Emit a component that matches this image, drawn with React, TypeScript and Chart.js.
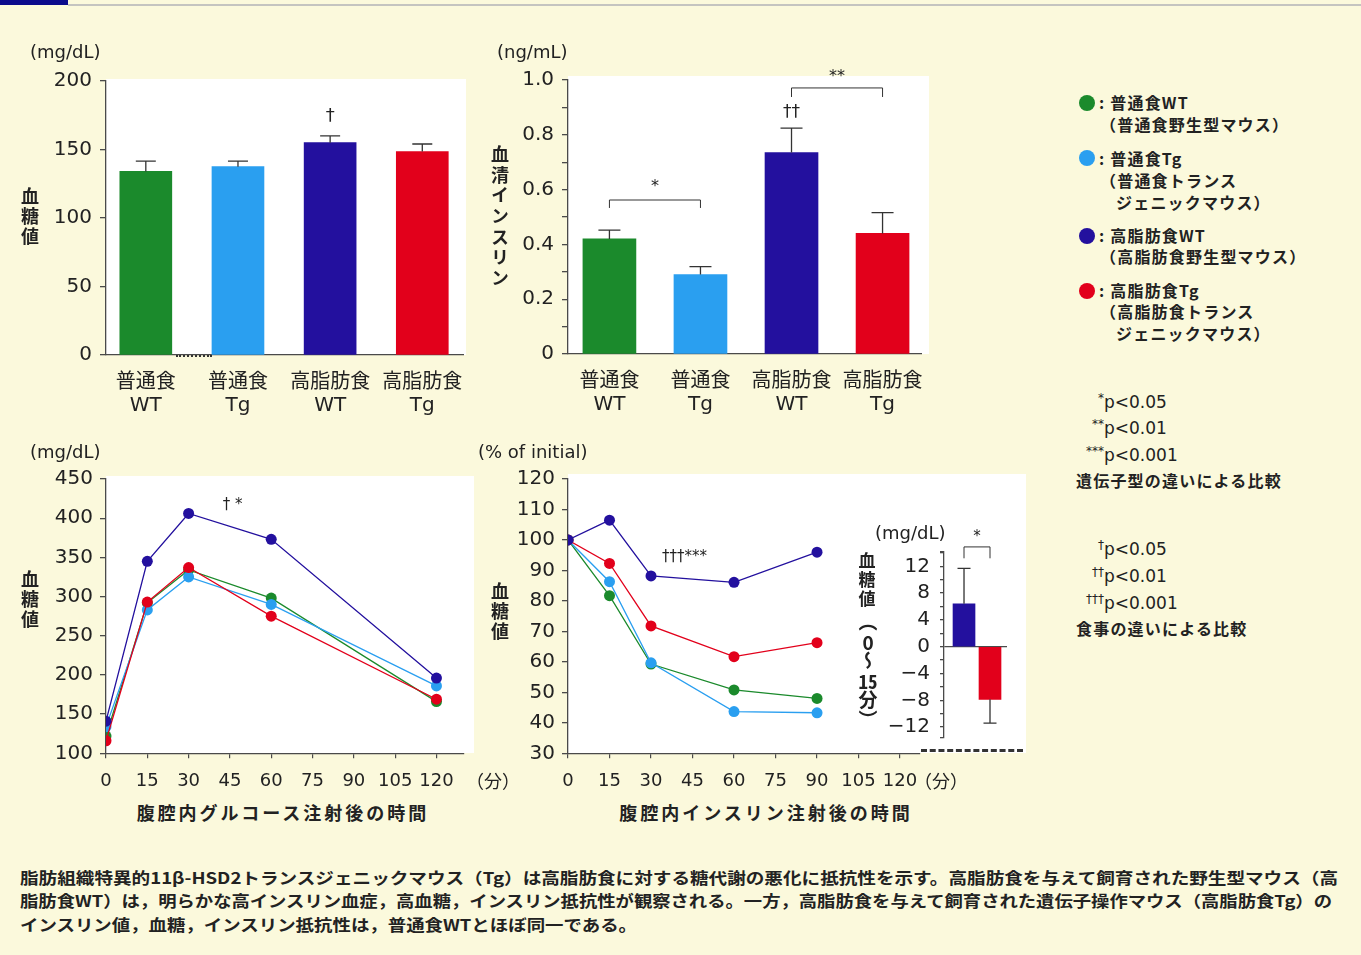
import React, { useEffect, useRef } from 'react';
import { Chart, registerables } from 'chart.js';

Chart.register(...registerables);

// ---------------- data ----------------
const groupLabels = [['普通食', 'WT'], ['普通食', 'Tg'], ['高脂肪食', 'WT'], ['高脂肪食', 'Tg']];

const glucoseMean = [134, 137.5, 155, 148.5];
const glucoseErrTop = [141.5, 141.5, 160, 154];

const insulinMean = [0.42, 0.29, 0.735, 0.44];
const insulinErrTop = [0.452, 0.319, 0.824, 0.516];

const timeTicks = [0, 15, 30, 45, 60, 75, 90, 105, 120];

const ipgttTimes = [0, 15, 30, 60, 120];
const ipgttNWT = [122, 292, 334, 298, 166];
const ipgttNTg = [134, 283, 325, 290, 186];
const ipgttHWT = [141, 345, 406, 373, 196];
const ipgttHTg = [116, 293, 337, 275, 169];

const ipittTimes = [0, 15, 30, 60, 90];
const ipittNWT = [100, 81.7, 59.3, 50.8, 48];
const ipittNTg = [100, 86.3, 59.7, 43.7, 43.3];
const ipittHWT = [100, 106.5, 88.2, 86.1, 96];
const ipittHTg = [100, 92.3, 71.8, 61.7, 66.3];

const deltaMean = [6.4, -7.85];
const deltaErrEnd = [11.7, -11.4];
const deltaTicks = [-12, -10, -8, -6, -4, -2, 0, 2, 4, 6, 8, 10, 12, 14];

const captionLines = [
  '脂肪組織特異的11β-HSD2トランスジェニックマウス（Tg）は高脂肪食に対する糖代謝の悪化に抵抗性を示す。高脂肪食を与えて飼育された野生型マウス（高',
  '脂肪食WT）は，明らかな高インスリン血症，高血糖，インスリン抵抗性が観察される。一方，高脂肪食を与えて飼育された遺伝子操作マウス（高脂肪食Tg）の',
  'インスリン値，血糖，インスリン抵抗性は，普通食WTとほぼ同一である。',
];

// ---------------- styles ----------------
const PAGE_BG = '#fbf9dc';
const INK = '#222222';
const AXIS = '#4a4a4a';
const C_NWT = '#1b8a2c';
const C_NTG = '#2a9ff0';
const C_HWT = '#23109e';
const C_HTG = '#e2001b';
const barColors = [C_NWT, C_NTG, C_HWT, C_HTG];
const LAT = "'DejaVu Sans', 'Noto Sans CJK JP', sans-serif";
const JP = "'Noto Sans CJK JP', 'DejaVu Sans', sans-serif";

type Txt = { x: number; y: number; text: string; size?: number; align?: CanvasTextAlign };
type Bracket = { from: number; to: number; y: number; yTick: number };

const annoPlugin = {
  id: 'anno',
  afterDatasetsDraw(chart: any, _args: any, opts: any) {
    const { ctx, scales } = chart;
    const xs = scales.x;
    const ys = scales.y;
    ctx.save();
    ctx.strokeStyle = '#333';
    ctx.lineWidth = 1.3;
    if (opts.errEnd) {
      const meta = chart.getDatasetMeta(0);
      meta.data.forEach((el: any, i: number) => {
        const x = el.x;
        const y0 = ys.getPixelForValue(opts.mean[i]);
        const y1 = ys.getPixelForValue(opts.errEnd[i]);
        const cap = opts.cap || 20;
        ctx.beginPath();
        ctx.moveTo(x, y0);
        ctx.lineTo(x, y1);
        ctx.moveTo(x - cap / 2, y1);
        ctx.lineTo(x + cap / 2, y1);
        ctx.stroke();
      });
    }
    (opts.brackets || []).forEach((b: Bracket) => {
      const x0 = xs.getPixelForValue(b.from);
      const x1 = xs.getPixelForValue(b.to);
      const y = ys.getPixelForValue(b.y);
      const yt = ys.getPixelForValue(b.yTick);
      ctx.lineWidth = 1;
      ctx.beginPath();
      ctx.moveTo(x0, yt);
      ctx.lineTo(x0, y);
      ctx.lineTo(x1, y);
      ctx.lineTo(x1, yt);
      ctx.stroke();
    });
    (opts.texts || []).forEach((t: Txt) => {
      ctx.fillStyle = INK;
      ctx.font = `${t.size || 17}px ${LAT}`;
      ctx.textAlign = t.align || 'center';
      ctx.textBaseline = 'middle';
      ctx.fillText(t.text, xs.getPixelForValue(t.x), ys.getPixelForValue(t.y));
    });
    ctx.restore();
  },
};

const baseOpts = (padding: any, scales: any, anno: any) => ({
  responsive: false,
  animation: false as const,
  layout: { padding },
  plugins: { legend: { display: false }, tooltip: { enabled: false }, anno },
  scales,
});

const yAxis = (min: number, max: number, step: number, width: number, pad: number, extra: any = {}) => ({
  type: 'linear',
  min,
  max,
  ticks: {
    stepSize: step,
    autoSkip: false,
    padding: pad,
    color: INK,
    font: { family: LAT, size: 20 },
    ...(extra.ticks || {}),
  },
  grid: { drawOnChartArea: false, tickLength: 6, color: AXIS, tickColor: AXIS, lineWidth: 1.3, ...(extra.grid || {}) },
  border: { display: true, color: AXIS, width: 1.3 },
  afterFit: (s: any) => {
    s.width = width;
  },
  ...(extra.rest || {}),
});

const catX = (min: number, max: number, height: number) => ({
  type: 'linear',
  min,
  max,
  offset: false,
  grid: { display: false, drawTicks: false, offset: false },
  border: { display: true, color: AXIS, width: 1.3 },
  afterBuildTicks: (s: any) => {
    s.ticks = groupLabels.map((_, i) => ({ value: i }));
  },
  ticks: {
    autoSkip: false,
    maxRotation: 0,
    padding: 16,
    color: INK,
    font: { family: LAT, size: 20, lineHeight: 1.15 },
    callback: (v: any) => groupLabels[v] || '',
  },
  afterFit: (s: any) => {
    s.height = height;
  },
});

const timeX = (max: number, height: number) => ({
  type: 'linear',
  min: 0,
  max,
  afterBuildTicks: (s: any) => {
    s.ticks = timeTicks.map((v) => ({ value: v }));
  },
  ticks: { autoSkip: false, maxRotation: 0, padding: 12, color: INK, font: { family: LAT, size: 18 } },
  grid: { drawOnChartArea: false, tickLength: 5, color: AXIS, tickColor: AXIS, lineWidth: 1.2 },
  border: { color: AXIS, width: 1.3 },
  afterFit: (s: any) => {
    s.height = height;
  },
});

const lineDs = (times: number[], vals: number[], color: string) => ({
  data: times.map((t, i) => ({ x: t, y: vals[i] })),
  borderColor: color,
  backgroundColor: color,
  pointBackgroundColor: color,
  pointBorderColor: color,
  pointRadius: 5.5,
  pointBorderWidth: 0,
  borderWidth: 1.3,
  tension: 0,
});

// ---------------- small html helpers ----------------
function T(props: {
  x: number;
  y: number;
  size?: number;
  anchor?: 'left' | 'center' | 'right';
  style?: React.CSSProperties;
  children: React.ReactNode;
}) {
  const { x, y, size = 18, anchor = 'left', style, children } = props;
  const tx = anchor === 'center' ? '-50%' : anchor === 'right' ? '-100%' : '0';
  return (
    <div
      style={{
        position: 'absolute',
        left: x,
        top: y,
        transform: `translate(${tx}, -50%)`,
        fontSize: size,
        lineHeight: 1.2,
        whiteSpace: 'nowrap',
        color: INK,
        fontFamily: LAT,
        ...style,
      }}
    >
      {children}
    </div>
  );
}

function V(props: { x: number; y: number; size?: number; spacing?: number; children: React.ReactNode }) {
  const { x, y, size = 18, spacing = 2, children } = props;
  return (
    <div
      style={{
        position: 'absolute',
        left: x - size / 2,
        top: y,
        writingMode: 'vertical-rl',
        fontSize: size,
        lineHeight: 1,
        letterSpacing: spacing,
        fontFamily: JP,
        fontWeight: 700,
        color: INK,
        whiteSpace: 'nowrap',
      }}
    >
      {children}
    </div>
  );
}

function Dot({ x, y, color }: { x: number; y: number; color: string }) {
  return (
    <div
      style={{
        position: 'absolute',
        left: x - 8,
        top: y - 8,
        width: 16,
        height: 16,
        borderRadius: '50%',
        background: color,
      }}
    />
  );
}

function WhiteBox({ l, t, w, h }: { l: number; t: number; w: number; h: number }) {
  return <div style={{ position: 'absolute', left: l, top: t, width: w, height: h, background: '#ffffff' }} />;
}

export default function App() {
  const cA = useRef<HTMLCanvasElement>(null);
  const cB = useRef<HTMLCanvasElement>(null);
  const cC = useRef<HTMLCanvasElement>(null);
  const cD = useRef<HTMLCanvasElement>(null);
  const cE = useRef<HTMLCanvasElement>(null);
  const capRefs = [useRef<HTMLSpanElement>(null), useRef<HTMLSpanElement>(null), useRef<HTMLSpanElement>(null)];
  const capTargets = [1318, 1312, 617];

  useEffect(() => {
    const charts: Chart[] = [];

    // A: fasting glucose bars
    charts.push(
      new Chart(cA.current as HTMLCanvasElement, {
        type: 'bar',
        data: {
          datasets: [
            {
              data: glucoseMean.map((v, i) => ({ x: i, y: v })) as any,
              backgroundColor: barColors,
              borderWidth: 0,
              barThickness: 52,
            },
          ],
        },
        options: baseOpts(
          { left: 0, top: 21, right: 15, bottom: 0 },
          {
            x: catX(-0.432, 3.442, 75),
            y: yAxis(0, 200, 50, 66, 8),
          },
          {
            mean: glucoseMean,
            errEnd: glucoseErrTop,
            cap: 20,
            texts: [{ x: 2, y: 174, text: '†', size: 18 }],
          }
        ) as any,
        plugins: [annoPlugin as any],
      })
    );

    // B: serum insulin bars
    charts.push(
      new Chart(cB.current as HTMLCanvasElement, {
        type: 'bar',
        data: {
          datasets: [
            {
              data: insulinMean.map((v, i) => ({ x: i, y: v })) as any,
              backgroundColor: barColors,
              borderWidth: 0,
              barThickness: 53,
            },
          ],
        },
        options: baseOpts(
          { left: 0, top: 30, right: 13, bottom: 0 },
          {
            x: catX(-0.455, 3.433, 76),
            y: yAxis(0, 1, 0.1, 68, 8, {
              ticks: {
                callback: (v: any) => {
                  const k = Math.round(v * 10);
                  return k % 2 === 0 ? (k === 0 ? '0' : (k / 10).toFixed(1)) : '';
                },
              },
            }),
          },
          {
            mean: insulinMean,
            errEnd: insulinErrTop,
            cap: 22,
            brackets: [
              { from: 0, to: 1, y: 0.562, yTick: 0.533 },
              { from: 2, to: 3, y: 0.971, yTick: 0.938 },
            ],
            texts: [
              { x: 0.5, y: 0.61, text: '*', size: 16 },
              { x: 2.5, y: 1.01, text: '**', size: 16 },
              { x: 2, y: 0.88, text: '††', size: 17 },
            ],
          }
        ) as any,
        plugins: [annoPlugin as any],
      })
    );

    // C: IPGTT
    charts.push(
      new Chart(cC.current as HTMLCanvasElement, {
        type: 'line',
        data: {
          datasets: [
            lineDs(ipgttTimes, ipgttHWT, C_HWT),
            lineDs(ipgttTimes, ipgttHTg, C_HTG),
            lineDs(ipgttTimes, ipgttNTg, C_NTG),
            lineDs(ipgttTimes, ipgttNWT, C_NWT),
          ] as any,
        },
        options: baseOpts(
          { left: 0, top: 19, right: 36, bottom: 0 },
          {
            x: timeX(130, 36.7),
            y: yAxis(100, 450, 50, 66, 7),
          },
          { texts: [{ x: 46, y: 417, text: '† *', size: 15 }] }
        ) as any,
        plugins: [annoPlugin as any],
      })
    );

    // D: IPITT
    charts.push(
      new Chart(cD.current as HTMLCanvasElement, {
        type: 'line',
        data: {
          datasets: [
            lineDs(ipittTimes, ipittHWT, C_HWT),
            lineDs(ipittTimes, ipittHTg, C_HTG),
            lineDs(ipittTimes, ipittNTg, C_NTG),
            lineDs(ipittTimes, ipittNWT, C_NWT),
          ] as any,
        },
        options: baseOpts(
          { left: 0, top: 18.5, right: 20.6, bottom: 0 },
          {
            x: timeX(127, 36.7),
            y: yAxis(30, 120, 10, 68, 7),
          },
          { texts: [{ x: 34, y: 94.4, text: '†††***', size: 15, align: 'left' }] }
        ) as any,
        plugins: [annoPlugin as any],
      })
    );

    // E: inset delta glucose 0-15 min
    charts.push(
      new Chart(cE.current as HTMLCanvasElement, {
        type: 'bar',
        data: {
          datasets: [
            {
              data: deltaMean.map((v, i) => ({ x: i, y: v })) as any,
              backgroundColor: [C_HWT, C_HTG],
              borderWidth: 0,
              barThickness: 22,
            },
          ],
        },
        options: baseOpts(
          { left: 0, top: 31.6, right: 13, bottom: 22.8 },
          {
            x: { type: 'linear', min: -0.77, max: 1.654, display: false, offset: false },
            y: yAxis(-13.5, 14.2, 2, 84, 10, {
              ticks: {
                callback: (v: any) => {
                  if (!Number.isInteger(v) || v % 4 !== 0) return '';
                  return v < 0 ? '\u2212' + Math.abs(v) : String(v);
                },
              },
              grid: {
                drawOnChartArea: true,
                tickLength: 4,
                color: (c: any) => (c.tick && c.tick.value === 0 ? AXIS : 'rgba(0,0,0,0)'),
                tickColor: AXIS,
              },
              rest: {
                afterBuildTicks: (s: any) => {
                  s.ticks = [s.min, ...deltaTicks, s.max].map((v: number) => ({ value: v }));
                },
              },
            }),
          },
          {
            mean: deltaMean,
            errEnd: deltaErrEnd,
            cap: 13,
            brackets: [{ from: 0, to: 1, y: 14.9, yTick: 13.2 }],
            texts: [{ x: 0.5, y: 16.4, text: '*', size: 15 }],
          }
        ) as any,
        plugins: [annoPlugin as any],
      })
    );

    // fit caption lines to their measured widths
    capRefs.forEach((r, i) => {
      const el = r.current;
      if (!el) return;
      el.style.transform = 'none';
      const w = el.getBoundingClientRect().width;
      if (w > 0) el.style.transform = `scaleX(${capTargets[i] / w})`;
    });

    return () => charts.forEach((c) => c.destroy());
  }, []);

  const legendTxt: React.CSSProperties = { fontFamily: JP, fontWeight: 700, letterSpacing: 1.2 };
  const pStyle: React.CSSProperties = { fontFamily: LAT };
  const supStyle: React.CSSProperties = { fontFamily: LAT, fontSize: 12 };
  const upright: any = { textCombineUpright: 'all' };

  return (
    <div
      style={{
        position: 'absolute',
        left: 0,
        top: 0,
        width: 1361,
        height: 955,
        overflow: 'hidden',
        background: PAGE_BG,
        fontFamily: LAT,
      }}
    >
      {/* top strip */}
      <div style={{ position: 'absolute', left: 0, top: 0, width: 68, height: 5, background: '#0b0b8c' }} />
      <div style={{ position: 'absolute', left: 68, top: 4, width: 1293, height: 2, background: '#c4c4c0' }} />

      {/* plot backgrounds */}
      <WhiteBox l={106} t={79} w={360} h={276} />
      <WhiteBox l={568} t={76} w={361} h={278} />
      <WhiteBox l={106} t={476} w={368} h={277} />
      <WhiteBox l={568} t={474} w={458} h={279} />

      {/* canvases */}
      <canvas ref={cA} width={440} height={370} style={{ position: 'absolute', left: 40, top: 60 }} />
      <canvas ref={cB} width={440} height={380} style={{ position: 'absolute', left: 500, top: 50 }} />
      <canvas ref={cC} width={460} height={330} style={{ position: 'absolute', left: 40, top: 460 }} />
      <canvas ref={cD} width={440} height={330} style={{ position: 'absolute', left: 500, top: 460 }} />
      <canvas ref={cE} width={160} height={240} style={{ position: 'absolute', left: 860, top: 520 }} />

      {/* baseline artefacts */}
      <div style={{ position: 'absolute', left: 921, top: 749, width: 102, height: 0, borderTop: '3px dashed #333' }} />
      <div style={{ position: 'absolute', left: 176, top: 355, width: 36, height: 0, borderTop: '2px dotted #333' }} />

      {/* units */}
      <T x={30} y={52} size={18}>(mg/dL)</T>
      <T x={497} y={52} size={18}>(ng/mL)</T>
      <T x={30} y={452} size={18}>(mg/dL)</T>
      <T x={478} y={452} size={18}>(% of initial)</T>
      <T x={875} y={533} size={18}>(mg/dL)</T>

      {/* vertical axis titles */}
      <V x={30} y={187} size={18} spacing={2}>血糖値</V>
      <V x={500} y={145} size={18} spacing={2.7}>血清インスリン</V>
      <V x={30} y={570} size={18} spacing={2}>血糖値</V>
      <V x={500} y={582} size={18} spacing={2}>血糖値</V>
      <V x={867} y={552} size={17} spacing={2}>血糖値</V>
      <V x={868} y={612} size={19} spacing={1}>
        （<span style={upright}>0</span>〜<span style={upright}>15</span>分）
      </V>

      {/* x-axis titles and units */}
      <T x={283} y={813} size={18} anchor="center" style={{ fontFamily: JP, fontWeight: 700, letterSpacing: 3 }}>
        腹腔内グルコース注射後の時間
      </T>
      <T x={766} y={813} size={18} anchor="center" style={{ fontFamily: JP, fontWeight: 700, letterSpacing: 3 }}>
        腹腔内インスリン注射後の時間
      </T>
      <T x={466} y={781} size={18} style={{ fontFamily: JP }}>
        （分）
      </T>
      <T x={914} y={781} size={18} style={{ fontFamily: JP }}>
        （分）
      </T>

      {/* legend */}
      <Dot x={1087} y={103} color={C_NWT} />
      <T x={1099} y={103} size={16} style={legendTxt}>: 普通食WT</T>
      <T x={1100} y={125} size={16} style={legendTxt}>（普通食野生型マウス）</T>
      <Dot x={1087} y={158} color={C_NTG} />
      <T x={1099} y={159} size={16} style={legendTxt}>: 普通食Tg</T>
      <T x={1100} y={181} size={16} style={legendTxt}>（普通食トランス</T>
      <T x={1116} y={203} size={16} style={legendTxt}>ジェニックマウス）</T>
      <Dot x={1087} y={236} color={C_HWT} />
      <T x={1099} y={236} size={16} style={legendTxt}>: 高脂肪食WT</T>
      <T x={1100} y={257} size={16} style={legendTxt}>（高脂肪食野生型マウス）</T>
      <Dot x={1087} y={291} color={C_HTG} />
      <T x={1099} y={291} size={16} style={legendTxt}>: 高脂肪食Tg</T>
      <T x={1100} y={312} size={16} style={legendTxt}>（高脂肪食トランス</T>
      <T x={1116} y={334} size={16} style={legendTxt}>ジェニックマウス）</T>

      {/* significance keys */}
      <T x={1104} y={398} size={12} anchor="right" style={supStyle}>*</T>
      <T x={1104} y={402} size={17} style={pStyle}>p&lt;0.05</T>
      <T x={1104} y={424} size={12} anchor="right" style={supStyle}>**</T>
      <T x={1104} y={428} size={17} style={pStyle}>p&lt;0.01</T>
      <T x={1104} y={451} size={12} anchor="right" style={supStyle}>***</T>
      <T x={1104} y={455} size={17} style={pStyle}>p&lt;0.001</T>
      <T x={1076} y={481} size={16} style={legendTxt}>遺伝子型の違いによる比較</T>

      <T x={1104} y={545} size={11} anchor="right" style={supStyle}>†</T>
      <T x={1104} y={549} size={17} style={pStyle}>p&lt;0.05</T>
      <T x={1104} y={572} size={11} anchor="right" style={supStyle}>††</T>
      <T x={1104} y={576} size={17} style={pStyle}>p&lt;0.01</T>
      <T x={1104} y={599} size={11} anchor="right" style={supStyle}>†††</T>
      <T x={1104} y={603} size={17} style={pStyle}>p&lt;0.001</T>
      <T x={1076} y={629} size={16} style={legendTxt}>食事の違いによる比較</T>

      {/* caption */}
      {captionLines.map((line, i) => (
        <div
          key={i}
          style={{
            position: 'absolute',
            left: 20,
            top: [877, 900, 924][i] - 10,
            height: 20,
            lineHeight: '20px',
            whiteSpace: 'nowrap',
          }}
        >
          <span
            ref={capRefs[i]}
            style={{
              display: 'inline-block',
              transformOrigin: 'left center',
              fontFamily: JP,
              fontWeight: 700,
              fontSize: 16,
              color: INK,
            }}
          >
            {line}
          </span>
        </div>
      ))}
    </div>
  );
}
